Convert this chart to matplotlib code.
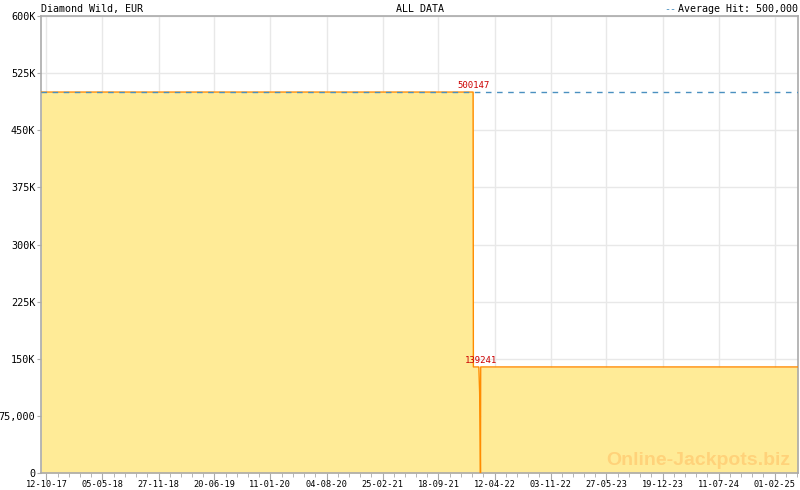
import matplotlib
matplotlib.use("Agg")
import matplotlib.pyplot as plt
import matplotlib.dates as mdates
from matplotlib.ticker import FixedLocator
import pandas as pd

# jackpot history (date, value)
dates = ["2017-09-22", "2022-01-23", "2022-01-24", "2022-02-13",
         "2022-02-16", "2022-02-18", "2022-02-19", "2022-02-20", "2025-04-28"]
values = [500147, 500147, 139241, 139241, 105000, 40000, 0, 139241, 139241]

tick_dates = ["2017-10-12", "2018-05-05", "2018-11-27", "2019-06-20", "2020-01-11",
              "2020-08-04", "2021-02-25", "2021-09-18", "2022-04-12", "2022-11-03",
              "2023-05-27", "2023-12-19", "2024-07-11", "2025-02-01"]
tick_labels = ["12-10-17", "05-05-18", "27-11-18", "20-06-19", "11-01-20", "04-08-20",
               "25-02-21", "18-09-21", "12-04-22", "03-11-22", "27-05-23", "19-12-23",
               "11-07-24", "01-02-25"]
y_ticks = [0, 75000, 150000, 225000, 300000, 375000, 450000, 525000, 600000]
y_labels = ["0", "75,000", "150K", "225K", "300K", "375K", "450K", "525K", "600K"]

average = 500000
peaks = [("2022-01-23", 500147), ("2022-02-20", 139241)]

x = pd.to_datetime(dates)
mono = "DejaVu Sans Mono"

fig = plt.figure(figsize=(8, 4.9), dpi=100)
ax = fig.add_axes([41 / 800, 17 / 490, 757 / 800, 457 / 490])

ax.fill_between(x, values, 0, color="#ffeb97", linewidth=0, zorder=2)
ax.plot(x, values, color="#ff8c00", linewidth=1, zorder=3)
ax.axhline(average, color="#4a90c0", linestyle=(0, (4, 4)), linewidth=1, zorder=4)

ax.set_xlim(x[0], x[-1])
ax.set_ylim(0, 600000)

major = [mdates.date2num(pd.Timestamp(d)) for d in tick_dates]
minor = []
for a, b in zip(major[:-1], major[1:]):
    step = (b - a) / 5
    minor += [a + step * k for k in range(1, 5)]
minor += [major[-1] + (major[-1] - major[-2]) / 5 * k for k in range(1, 5)]
ax.xaxis.set_major_locator(FixedLocator(major))
ax.xaxis.set_minor_locator(FixedLocator(minor))
ax.set_xticklabels(tick_labels, fontfamily=mono, fontsize=6.2)
ax.set_yticks(y_ticks)
ax.set_yticklabels(y_labels, fontfamily=mono, fontsize=7.3)

ax.tick_params(axis="x", which="major", length=5, color="#aaaaaa", pad=0)
ax.tick_params(axis="x", which="minor", length=3, color="#aaaaaa")
ax.tick_params(axis="y", length=3, color="#aaaaaa", pad=1)
ax.grid(True, which="major", color="#e8e8e8", linewidth=1, zorder=0)
ax.set_axisbelow(True)
for s in ax.spines.values():
    s.set_color("#aaaaaa")
    s.set_linewidth(1.2)

for d, v in peaks:
    ax.text(pd.Timestamp(d), v + 2500, str(v), color="#cc0000", fontfamily=mono,
            fontsize=6.5, ha="center", va="bottom", zorder=5)

ax.text(0, 1.004, "Diamond Wild, EUR", transform=ax.transAxes, fontfamily=mono,
        fontsize=7.2, ha="left", va="bottom")
ax.text(0.5, 1.004, "ALL DATA", transform=ax.transAxes, fontfamily=mono,
        fontsize=7.2, ha="center", va="bottom")
ax.text(1.0, 1.004, "Average Hit: 500,000", transform=ax.transAxes, fontfamily=mono,
        fontsize=7.2, ha="right", va="bottom")
ax.text((664 - 41) / 757, 1.004, "--", transform=ax.transAxes, fontfamily=mono,
        fontsize=7.2, ha="left", va="bottom", color="#4a90c0")

ax.text(0.99, 0.018, "Online-Jackpots.biz", transform=ax.transAxes,
        fontfamily="Liberation Sans", fontweight="bold", fontsize=14,
        color="#ffd27a", ha="right", va="baseline", zorder=6)

fig.savefig("out.png", dpi=100)
